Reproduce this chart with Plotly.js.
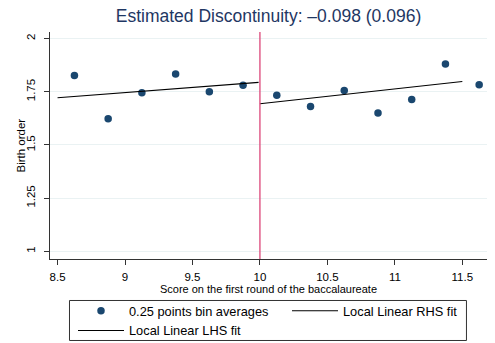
<!DOCTYPE html>
<html>
<head>
<meta charset="utf-8">
<script src="https://cdn.plot.ly/plotly-3.0.1.min.js"></script>
<style>html,body{margin:0;padding:0;background:#fff}#chart{width:495px;height:343px}</style>
</head>
<body>
<div id="chart"></div>
<script>
// Data
const binX = [8.625, 8.875, 9.125, 9.375, 9.625, 9.875, 10.125, 10.375, 10.625, 10.875, 11.125, 11.375, 11.625];
const binY = [1.827, 1.623, 1.745, 1.834, 1.750, 1.781, 1.734, 1.681, 1.756, 1.650, 1.714, 1.881, 1.783];
const lhsX = [8.5, 9.99];
const lhsY = [1.722, 1.794];
const rhsX = [10.0, 11.5];
const rhsY = [1.694, 1.798];
const cutoff = 10;
const xTicks = [8.5, 9, 9.5, 10, 10.5, 11, 11.5];
const xTickText = ['8.5', '9', '9.5', '10', '10.5', '11', '11.5'];
const yTicks = [1, 1.25, 1.5, 1.75, 2];
const yTickText = ['1', '1.25', '1.5', '1.75', '2'];
const titleText = 'Estimated Discontinuity: \u20130.098 (0.096)';
const xTitle = 'Score on the first round of the baccalaureate';
const yTitle = 'Birth order';
const names = ['0.25 points bin averages', 'Local Linear RHS fit', 'Local Linear LHS fit'];

const font = 'Liberation Sans, Arial, sans-serif';

const traces = [
  {x: binX, y: binY, type: 'scatter', mode: 'markers', name: names[0], legend: 'legend',
   marker: {color: '#1a476f', size: 7.5}},
  {x: rhsX, y: rhsY, type: 'scatter', mode: 'lines', name: names[1], legend: 'legend2',
   line: {color: '#000', width: 1.1}},
  {x: lhsX, y: lhsY, type: 'scatter', mode: 'lines', name: names[2], legend: 'legend',
   line: {color: '#000', width: 1.1}}
];

const legendCommon = {
  orientation: 'v', xref: 'container', yref: 'container', xanchor: 'left', yanchor: 'top',
  borderwidth: 0, bgcolor: 'rgba(0,0,0,0)', font: {size: 12.8, color: '#000'},
  itemwidth: 46, tracegroupgap: 0
};

const layout = {
  width: 495, height: 343,
  margin: {l: 50, r: 8, t: 32, b: 84, autoexpand: false},
  paper_bgcolor: '#fff', plot_bgcolor: '#fff',
  font: {family: font, size: 11, color: '#000'},
  title: {text: titleText, font: {family: font, size: 17.5, color: '#1f3763'},
          x: 0.5, xref: 'paper', xanchor: 'center', y: 1 - 10/343, yref: 'container', yanchor: 'top'},
  xaxis: {range: [8.444, 11.683], tickvals: xTicks, ticktext: xTickText,
          showgrid: false, zeroline: false, showline: true, linecolor: '#333', linewidth: 1,
          ticks: 'outside', ticklen: 5, tickcolor: '#333', tickfont: {size: 11.5},
          ticklabelstandoff: 2,
          title: {text: xTitle, font: {size: 11}, standoff: 1}},
  yaxis: {range: [0.964, 2.031], tickvals: yTicks, ticktext: yTickText, tickangle: -90,
          showgrid: true, gridcolor: '#eaf2f3', gridwidth: 1, zeroline: false,
          showline: true, linecolor: '#333', linewidth: 1,
          ticks: 'outside', ticklen: 5, tickcolor: '#333', tickfont: {size: 11.5},
          ticklabelstandoff: 4},
  annotations: [
    {text: yTitle, textangle: -90, xref: 'paper', yref: 'paper', x: (20 - 50) / 437, y: 0.5,
     xanchor: 'center', yanchor: 'middle', showarrow: false, font: {size: 11.5, color: '#000'}}
  ],
  shapes: [
    {type: 'line', xref: 'x', yref: 'paper', x0: cutoff, x1: cutoff, y0: 0, y1: 1,
     line: {color: '#dc4679', width: 1.3}},
    {type: 'rect', xref: 'paper', yref: 'paper', x0: 0.0446, x1: 0.953, y0: -0.359, y1: -0.1828,
     line: {color: '#333', width: 1}, fillcolor: 'rgba(0,0,0,0)'}
  ],
  showlegend: true,
  legend: Object.assign({}, legendCommon, {x: 73/495, y: 1 - 296/343}),
  legend2: Object.assign({}, legendCommon, {x: 287/495, y: 1 - 296/343})
};

Plotly.newPlot('chart', traces, layout, {displayModeBar: false, staticPlot: true});
</script>
</body>
</html>
